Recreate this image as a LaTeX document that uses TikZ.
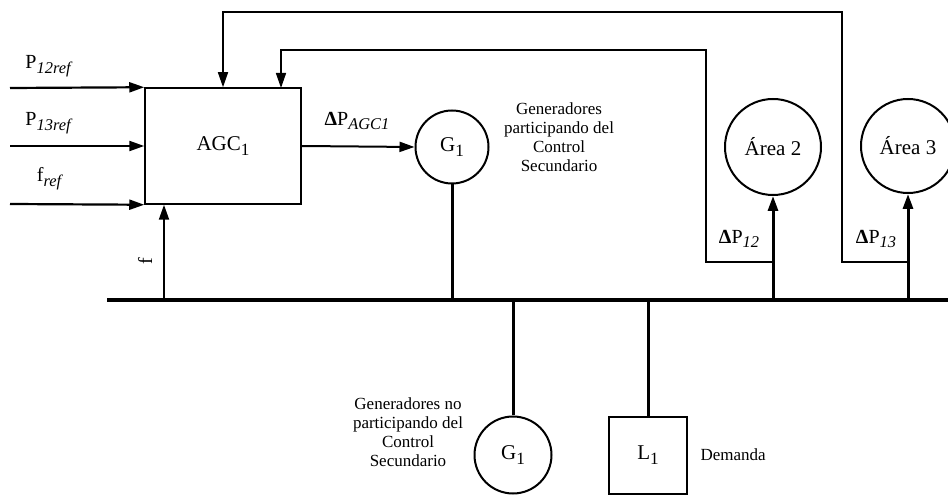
\documentclass[tikz,border=0pt]{standalone}
\usepackage{fontspec}
\usepackage{graphicx}
\setmainfont{Liberation Serif}
\usetikzlibrary{arrows.meta}
\newcommand{\lowsub}[1]{\raisebox{-0.5ex}{\scalebox{0.82}{#1}}}
\begin{document}
\begin{tikzpicture}[x=1pt,y=-1pt,
  wire/.style={line width=1.5pt},
  heavy/.style={line width=3pt},
  arr/.style={-{Triangle[length=15pt,width=10pt]}},
  lbl/.style={font=\fontsize{21}{22}\selectfont},
  note/.style={font=\fontsize{17}{19}\selectfont, align=center},
  sig/.style={font=\fontsize{20}{22}\selectfont},
]
\useasboundingbox (0,0) rectangle (948,502);
% nodes
\node[draw, wire, minimum width=156pt, minimum height=116pt, inner sep=0pt, lbl] (agc) at (223,146) {AGC\lowsub{1}};
\node[draw, circle, line width=2pt, minimum size=73pt, inner sep=0pt, lbl] (g1) at (452,147) {G\lowsub{1}};
\node[draw, circle, line width=2pt, minimum size=96pt, inner sep=0pt, lbl] (a2) at (773,147) {Área 2};
\node[draw, circle, line width=2pt, minimum size=94pt, inner sep=0pt, lbl] (a3) at (908,146) {Área 3};
\node[draw, circle, line width=2pt, minimum size=77pt, inner sep=0pt, lbl] (g2) at (513,455) {G\lowsub{1}};
\node[draw, line width=2pt, minimum width=78pt, minimum height=77pt, inner sep=0pt, lbl] (l1) at (648,455.5) {L\lowsub{1}};
% bus
\coordinate (busL) at (107,300);
\coordinate (busR) at (948,300);
\draw[line width=4pt] (busL) -- (busR);
% inputs
\coordinate (i1) at (10,88);
\coordinate (i2) at (10,146);
\coordinate (i3) at (10,204);
\draw[line width=2.2pt, arr] (i1) -- (agc.north west);
\draw[line width=2.2pt, arr] (i2) -- (agc.west);
\draw[line width=2.2pt, arr] (i3) -- (agc.south west);
\node[sig] (p12) at (49,66) {P\lowsub{\textit{12ref}}};
\node[sig] (p13) at (49,123) {P\lowsub{\textit{13ref}}};
\node[sig] (fr) at (50,179) {f\lowsub{\textit{ref}}};
% f feedback
\coordinate (fb) at (164,300);
\draw[line width=2pt, arr] (fb) -- (fb |- agc.south);
\node[sig, rotate=90] (fl) at (145,261) {f};
% AGC -> G1
\draw[line width=2pt, arr] (agc.east) -- (g1.west);
\node[sig] (dagc) at (357,121) {\textbf{Δ}P\lowsub{\textit{AGC1}}};
\draw[heavy] (g1.south) -- (g1.south |- busL);
\node[note] (n1) at (559,137) {Generadores\\participando del\\Control\\Secundario};
% areas
\coordinate (b2) at (773,300);
\coordinate (b3) at (908,300);
\draw[heavy, arr] (b2) -- (a2.south);
\draw[heavy, arr] (b3) -- (a3.south);
\node[sig] (d12) at (739,239) {\textbf{Δ}P\lowsub{\textit{12}}};
\node[sig] (d13) at (876,239) {\textbf{Δ}P\lowsub{\textit{13}}};
% feedback loops
\coordinate (t2) at (773,262);
\coordinate (t3) at (908,262);
\coordinate (c2) at (706,50);
\coordinate (c3) at (842,12);
\coordinate (in2) at (281,88);
\draw[wire, arr] (t3) -| (c3) -| (agc.north);
\draw[wire, arr] (t2) -| (c2) -| (in2);
% bottom
\coordinate (bg) at (513,300);
\coordinate (bl) at (648,300);
\draw[heavy] (bg) -- (g2.north);
\draw[heavy] (bl) -- (l1.north);
\node[note] (n2) at (408,432) {Generadores no\\participando del\\Control\\Secundario};
\node[note, anchor=west] (dem) at (697,455) {Demanda};
\end{tikzpicture}
\end{document}
